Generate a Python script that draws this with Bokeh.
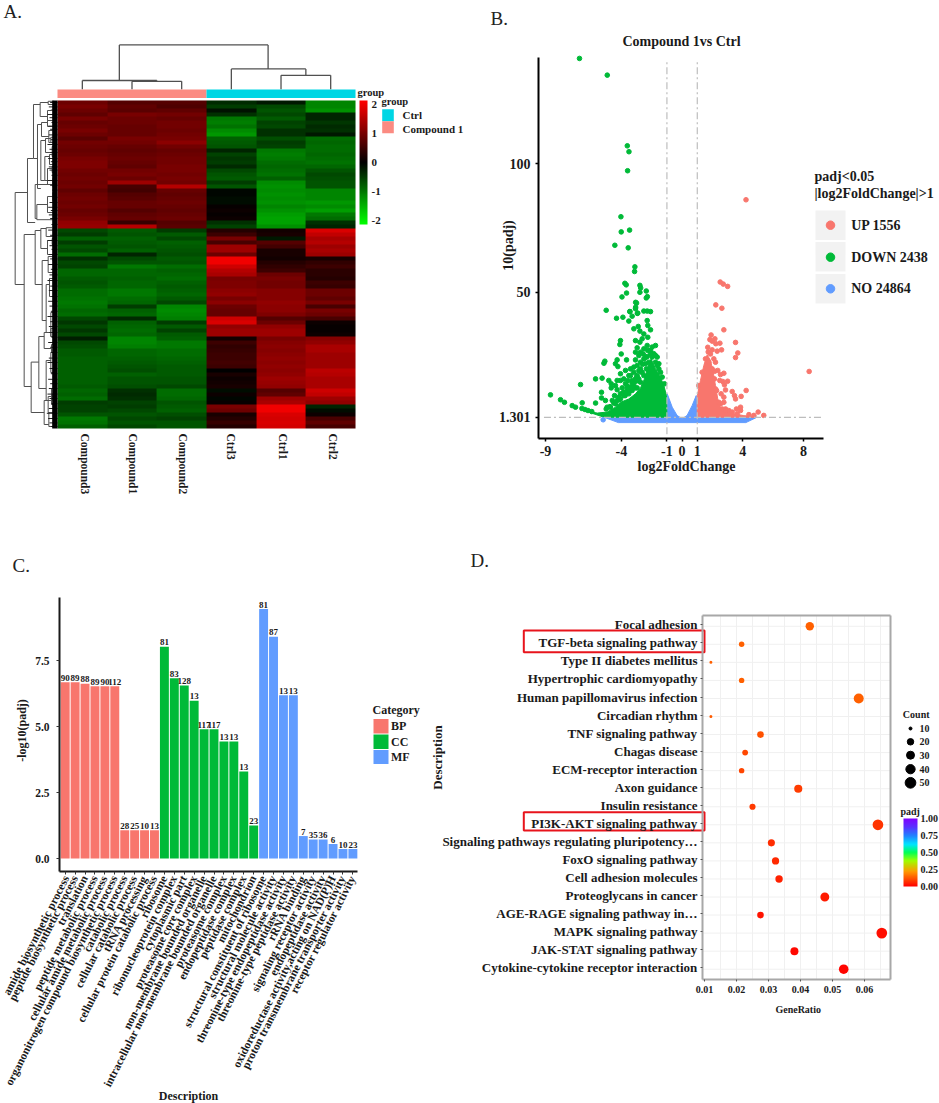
import math
import numpy as np
from bokeh.plotting import figure
from bokeh.layouts import column, row
from bokeh.embed import file_html
from bokeh.resources import INLINE
from bokeh.core.properties import value
from bokeh.models import (Range1d, LinearColorMapper, ColorBar, FixedTicker,
                          NumeralTickFormatter, PrintfTickFormatter)

SERIF = "Liberation Serif"

# ---------- Panel A data ----------
sample_names = ["Compound3", "Compound1", "Compound2", "Ctrl3", "Ctrl1", "Ctrl2"]
compound3 = [.9,1.0,.9,.8,1.0,.85,.9,1.0,.9,.75, .95,.9,.85,.9,1.0,1.05,1.05,.95,.9,.95,
             .9,.95,.8,.9,.95,.9,.95,.85,.9,1.0, 1.2,1.25,
             -.6,-.5,-.8,-.5,-.7,-.6,-.9,-.4,
             -.6,-.55,-.85,-.85,-.75,-.7,-.75,-.9,-.9,-.95, -1.,-.95,-.85,-.9,-.6,-.45,-.6,-.45,-.6,-.25,
             -.6,-.65,-.75,-.75,-.8,-.8,-.8,-.8,-.8,-.8, -.8,-.75,-.85,-.8,-.9,-.5,-.55,-.55,-.7,-1.0,-.95,-.8]
compound1 = [.7,.8,.75,1.,.9,.9,.85,.85,.85,1.0, .95,.85,.8,.85,.9,.85,.8,.95,1.0,.9,
             1.3,.6,.55,.7,.75,.85,.85,.7,.8,.85, .45,1.5,
             -.75,-.7,-.8,-.75,-.7,-.8,-.3,-.6,
             -.7,-1.0,-.85,-.85,-.8,-.85,-.85,-1.0,-1.0,-.9, -.85,-.5,-.8,-.85,-.35,-.8,-.85,-.9,-.85,-1.1,
             -1.1,-1.05,-.85,-.85,-.8,-.75,-.7,-.65,-.8,-.7, -.7,-.65,-.4,-.35,-.4,-.55,-.5,-.6,-.7,-.6,-.7,-.6]
compound2 = [.7,.65,.8,.95,.85,.95,.95,.9,.95,1.0, 1.15,.95,.85,.9,.95,.95,1.0,1.0,.95,1.0,
             .95,1.5,.85,.8,.85,.9,.85,.8,.85,.9, .7,.75,
             -.5,-.75,-.6,-.8,-.75,-.7,-.65,-.75,
             -.7,-.9,-.8,-.85,-.9,-.8,-.75,-.8,-.85,-.75, -.6,-1.1,-1.15,-1.1,-1.05,-.5,-.75,-.55,-.75,-.8,
             -1.0,-1.0,-.9,-.9,-.85,-.8,-.75,-.75,-.75,-.7, -.7,-.6,-.9,-.9,-.85,-.7,-.75,-.8,-.65,-.55,-.7,-.7]
ctrl3 = [-.35,-.5,-.15,-.4,-1.0,-1.05,-.95,-1.15,-1.25,-.8, -.75,-.7,-.3,-.55,-.45,-.5,-.35,-.6,-.7,-.75,
         -.5,-.7,-.05,-.05,-.1,-.1,.05,.1,.05,.1, -.4,-.55,
         .3,.5,1.0,.6,1.3,1.3,.9,2.0,
         2.0,1.7,1.5,1.4,1.0,1.05,1.05,1.15,1.2,1.0, 1.15,.9,.85,.85,1.7,1.8,1.2,1.3,1.3,.15,
         .5,.4,.45,.5,.5,.55,.5,0,.2,.1, .15,.2,-.1,.1,-.05,.05,1.0,.9,.2,.3,.45,.3]
ctrl1 = [-.2,-.6,-.7,-.6,-.75,-.55,-.6,-.4,-.4,-.65, -.5,-.55,-1.0,-1.05,-1.0,-.9,-.85,-.9,-.95,-.8,
         -1.15,-1.2,-1.15,-1.2,-1.15,-1.2,-1.1,-1.2,-1.3,-1.35, -1.35,-1.2,
         .15,.2,-.2,.7,.55,.2,.2,.15,
         .3,.4,.5,.9,1.0,.95,.95,1.1,1.1,1.1, 1.2,1.15,1.15,1.05,.7,.9,1.2,1.3,1.3,1.0,
         1.1,1.15,1.1,1.15,1.2,1.15,1.2,1.15,1.2,1.3, 1.25,1.2,.7,.8,1.3,1.4,2.0,2.0,1.8,1.75,1.8,1.75]
ctrl2 = [-1.1,-1.1,-1.2,-.3,-.3,-.45,-.35,-.4,-.2,-.9, -.85,-.9,-.9,-.85,-.9,-.95,-.85,-.7,-.6,-.65,
         -.7,-.7,-1.1,-1.1,-1.1,-1.25,-1.15,-1.3,-1.0,-.9, -.4,-.3,
         1.8,1.6,1.4,1.5,1.3,1.4,1.3,.2,
         .4,.5,.35,.35,.3,.5,.45,.9,.9,.8, 1.0,.6,1.0,.9,.6,.1,.05,.05,.1,1.1,
         1.2,1.4,1.4,1.3,1.3,1.3,1.3,1.55,1.5,1.4, 1.4,1.4,1.7,1.6,1.3,1.2,-.3,-.1,.1,.6,.8,.6]

# column dendrogram: parent height, left child position, right child position, child heights (in tree units)
col_tree = [(95.9, 1.245, 4.24, 87.0, 89.9),
            (87.0, .5, 2.0, 84.8, 86.8),
            (86.8, 1.5, 2.5, 84.8, 84.8),
            (89.9, 3.5, 5.0, 84.8, 88.3),
            (88.3, 4.5, 5.5, 84.8, 84.8)]
# row dendrogram brackets: parent height, top row, bottom row, top child height, bottom child height
row_tree = [(127,23,46,90,100),(90,14.5,30.5,72,67),(72,1,14.5,52,60),(52,.5,4,28,30),(28,.2,1,10,12),(30,2.5,5,18,16),
            (60,6,22,48,50),(48,5.5,9,30,26),(30,5,6.5,14,12),(26,7.5,10.5,14,10),(50,10,20,36,38),(36,9.5,13,20,16),
            (20,9.2,10.5,8,8),(16,11.5,14,8,8),(38,14,20,24,30),(24,13.5,16,10,10),(30,17,21,16,14),(16,16.5,18,6,6),
            (14,19.5,21.5,6,6),(67,21,29.5,8,62),(62,26,29.8,30,10),(30,24,28,14,12),(14,23,25,6,6),(12,27,28.5,6,6),
            (8,21,23,2,2),(100,33.5,71.5,67,79),(67,32.5,46,50,46),(50,32,37,34,30),(34,31.8,34,16,14),(30,35,38.5,16,12),
            (16,34.5,36,6,6),(46,40,55,28,34),(28,39,43,14,12),(14,38.5,40,6,6),(12,42,44,6,6),(34,46,58,24,20),
            (24,44.5,49,12,10),(12,44,46,6,6),(10,48,50,5,5),(20,53,59,10,10),(10,52,54.5,5,5),(10,57,60,5,5),
            (79,65.4,78,56,40),(56,59,72,40,34),(40,58,62,20,18),(20,57,59,8,8),(18,61,63,8,8),(34,65,75,20,18),
            (20,63,68,10,10),(10,62,64.5,4,4),(10,66,69,4,4),(18,72,76,10,8),(10,71,73,4,4),(8,75,77,4,4),
            (40,75,81,28,26),(28,74,78,14,12),(14,73.5,75,5,5),(12,77,79,5,5),(26,78,81.5,12,10),(12,77.5,79.5,5,5),(10,80,81.5,4,4)]
leaf_rows = [.5,1.6,2.4,3.5,4.3,5.5,6.4,7.2,8.6,9.8,11,12.2,13,14.5,15.3,16.6,17.4,18.7,20,21.2,22.4,24.2,25.5,26.7,27.5,28.6,29.5,31,
             32.4,33.7,35,36.3,37.2,38.5,39.6,41,42.2,43.6,45,46.4,47.5,49,50.2,51.4,52.7,54,55.3,56.5,58,59.2,60.5,61.7,63,64.4,65.5,
             67,68.3,69.7,70.8,72,73.4,74.5,75.8,77,78.2,79.5,80.6,81.5]
leaf_len = [22,26,20,30,24,18,28,22,26,20,30,24,22,28,20,26,24,18,30,22,16,14,24,28,20,26,22,18,
            28,22,30,24,18,26,22,28,20,24,30,22,26,18,28,24,20,30,22,26,24,18,28,22,20,26,30,
            24,20,28,22,26,30,24,18,26,32,28,24,20]

# ---------- Panel B data ----------
volcano_title = "Compound 1vs Ctrl"
x_ticks_b = [-9, -4, -1, 0, 1, 4, 8]
y_ticks_b = [1.301, 50, 100]
down_x = [-6.76,-4.93,-3.61,-3.5,-3.59,-4.03,-3.46,-4.01,-4.43,-3.55,-3.11,-3.13,-3.77,-3.68,-2.78,-2.73,-2.36,-3.66,-3.96,-2.29,
          -2.36,-2.78,-3.06,-3.0,-3.06,-5.0,-3.44,-2.95,
          -4.32,-3.9,-3.44,-3.29,-3.51,-3.07,-2.92,-2.52,-2.3,-2.08,-2.3,-2.26,-2.08,-3.18,-2.89,-2.78,-2.52,-2.26,-2.63,-3.07,-2.78,
          -4.06,-4.1,-1.75,-1.97,-2.3,-2.52,-2.96,-3.07,-4.01,-3.66,-4.28,-4.39,-4.23,-5.09,-5.15,
          -2.85,-3.07,-2.74,-2.96,-1.64,-1.53,-3.73,-4.06,-3.4,-3.18,-3.51,-3.07,-4.06,-3.29,-3.73,-4.83,-4.67,-5.7,-5.27,-6.69,
          -4.67,-5.31,-4.28,-3.95,-4.45,-5.31,-5.05,-5.7,-6.58,-8.67,-8.01,-7.75,-7.24,-7.02,-4.6,-4.06,-3.57,-3.07,-4.94,-2.3,-2.56,-2.08,-1.86,
          -6.6,-6.4,-6.2,-5.95,-2.6,-2.42,-2.85,-3.3,-2.98,-3.62,-3.85,-3.22,-2.7,-3.0,-3.4,-3.75,-4.15,-4.5,-4.75,-5.0,
          -4.39,-4.06,-3.84,-3.51,-3.29,-2.96,-2.74,-2.52,-2.35,-2.19,-1.97,-1.75,-1.53,-1.31,-1.16,-4.72,-4.28,-3.73,-3.4,-3.18,
          -2.85,-2.63,-2.41,-2.08,-1.75,-1.64,-1.42,-4.17,-3.62,-2.96,-2.74,-3.57,-3.84,-3.4,-4.28,-4.39,-3.18,-2.52,-2.74,-2.26]
down_y = [141,134.5,107,104.7,97.3,79.4,74.2,73.5,68.3,67.3,59.9,58.1,53.5,52.9,52.7,51.7,50.5,49.7,48.2,48.3,
          47.8,50,46.1,45.8,44.2,43,42.5,41.8,
          39.9,40.3,42.5,40.7,38.8,43.6,41.9,42.7,42.7,42.5,39,37.1,35.4,35.8,36.7,34.9,33.8,32.5,31.9,31.2,30.6,
          31.2,29.7,29.3,28.7,29.3,28,28.4,26.7,26,23.7,23.7,22.2,21.1,23.2,22.4,
          25.4,23.7,22.8,21.5,24.8,22.2,19.6,18.3,20.2,18.9,17.6,16.3,15.7,15.7,14.4,15.7,14.4,16.3,16.6,14.1,
          12.8,11.1,12.1,12.8,9.8,8.9,7.9,6.9,7,10.1,8.2,7.2,5.9,5.3,7.9,10.5,11.8,12.8,5.3,25,26,27.4,26.1,
          4.8,4.4,4,3.6,22,24.5,19.5,14.8,17.2,13.6,11.2,13.2,19,15.5,12,9.8,8.2,7,5.5,4.6,
          6.6,8.5,9.8,10.5,11.8,12.8,15,17.6,20.2,22.8,24.8,22.8,20.2,17,14.4,5.3,7.9,11.1,13.1,14.4,
          16.3,18.9,22.2,26,25.4,21.5,18.9,9.2,12.8,17.6,20.2,15.7,16.3,17.6,15.7,13.7,20.9,24.1,26.7,27.4]
up_x = [4.21,8.37,2.51,2.71,3,2.22,2.62,2.75,1.91,1.83,1.98,2.16,2.22,2.49,3.52,3.67,3.52,1.69,1.98,2.6,2.31,1.72,
        2.2,2.16,2.75,2.53,3.0,2.68,2.79,2.2,2.86,2.57,3.3,4.22,3.89,3.45,3.52,2.75,2.75,2.53,3.85,3.58,2.86,5.01,5.38,4.73,3.85,3.08,
        1.54,1.32,1.1,1.76,1.98,2.13,2.27,2.42,2.64,2.86,3.3,3.63,4.4,1.87,2.09,2.35,2.48]
up_y = [86,19.2,54,53.2,52.3,45.1,43.8,35.4,33.4,31.6,31,31.9,30,30.2,30.5,26.4,24.6,28.6,27.6,27.6,27.1,26.8,
        22.8,19.3,18.5,18,15.4,15.3,14,12.4,12,10.5,11.4,11.8,9.5,9.8,8.5,9.2,7.2,6.6,5.3,4.6,4.6,3.4,2.1,2.1,4,4,
        24.1,18.9,13.7,22.8,20.2,16.3,11.8,7.2,4.6,4,3.4,2.7,2.4,26,24.1,19.6,15.7]
no_x = [-5.2]
no_y = [0.4]
# outlines of the regions where the points merge into a solid cloud
down_cloud_x = [-6.47,-5.59,-4.94,-4.39,-4.06,-3.51,-3.07,-2.74,-2.48,-2.26,-2.04,-1.75,-1.47,-1.2,-1.03,-1,-5.16]
down_cloud_y = [4.0,3.0,3.4,5.3,7.2,8.5,10.5,12.8,16.3,20.9,24.1,20.2,17.6,13.7,9.8,1.4,1.4]
up_cloud_x = [1,1,1.21,1.43,1.65,1.87,2.05,2.2,2.35,2.53,3.19,4.07,4.83,4.83]
up_cloud_y = [1.4,9.8,15.7,21.5,25.7,23.5,18.9,13.7,8.5,5,3,2,1.7,1.4]
no_cloud_x = [-5.15,-4.2,4.2,4.94,1,.93,.66,.33,0,-.33,-.65,-.98,-1]
no_cloud_y = [1.4,-.7,-.7,1.4,1.4,9.8,5.9,2.1,.77,2.1,5.3,10.5,1.4]
legend_b = ["UP 1556", "DOWN 2438", "NO 24864"]

# ---------- Panel C data ----------
go_terms = ["amide biosynthetic process","peptide biosynthetic process","translation","peptide metabolic process",
            "cellular amide metabolic process","organonitrogen compound biosynthetic process","catabolic process",
            "cellular catabolic process","tRNA processing","cellular protein catabolic process",
            "ribosome","ribonucleoprotein complex","cytoplasmic part","proteasome core complex",
            "non-membrane bounded organelle","intracellular non-membrane bounded organelle","proteasome complex",
            "endopeptidase complex","peptidase complex","mitochondrion",
            "structural constituent of ribosome","structural molecule activity","threonine-type endopeptidase activity",
            "threonine-type peptidase activity","rRNA binding","signaling receptor activity","endopeptidase activity",
            "oxidoreductase activity,acting on NAD(P)H","proton transmembrane transporter activity","receptor regulator activity"]
go_pvalue = [6.68,6.68,6.62,6.52,6.52,6.52,1.07,1.07,1.07,1.07,
             8.02,6.83,6.55,5.98,4.9,4.9,4.43,4.43,3.3,1.25,
             9.45,8.4,6.18,6.18,.85,.72,.72,.55,.36,.36]
go_count = [90,89,88,89,90,112,28,25,10,13, 81,83,128,13,117,117,13,13,13,23, 81,87,13,13,7,35,36,6,10,23]
go_group = ["BP"]*10 + ["CC"]*10 + ["MF"]*10
group_colors = {"BP": "#f8766d", "CC": "#00ba38", "MF": "#619cff"}

# ---------- Panel D data ----------
kegg_terms = ["Focal adhesion","TGF-beta signaling pathway","Type II diabetes mellitus","Hypertrophic cardiomyopathy",
              "Human papillomavirus infection","Circadian rhythm","TNF signaling pathway","Chagas disease",
              "ECM-receptor interaction","Axon guidance","Insulin resistance","PI3K-AKT signaling pathway",
              "Signaling pathways regulating pluripotency…","FoxO signaling pathway","Cell adhesion molecules",
              "Proteoglycans in cancer","AGE-RAGE signaling pathway in…","MAPK signaling pathway",
              "JAK-STAT signaling pathway","Cytokine-cytokine receptor interaction"]
gene_ratio = [.0429,.0216,.012,.0216,.0582,.012,.0275,.0227,.0216,.0393,.025,.0642,.0309,.0322,.0333,.0476,.0275,.0654,.0381,.0535]
kegg_count = [33,17,9,17,45,9,21,18,17,31,19,50,24,25,26,37,21,51,30,42]
kegg_padj = [.14,.14,.14,.14,.14,.13,.12,.105,.1,.09,.085,.075,.065,.06,.05,.04,.03,.02,.012,.008]
count_levels = [10,20,30,40,50]
count_sizes = [3,6.5,8,9.3,10.7]


def bold(font_px):
    return dict(text_font=value(SERIF), text_font_style="bold", text_font_size=f"{font_px}px", text_color="#1a1a1a")


def panel_letter(fig, x, y, txt):
    fig.text(x=[x], y=[y], text=[txt], text_font=value(SERIF), text_font_size="19px", text_color="#222222",
             text_baseline="middle", text_align="left")


def free_label(fig, x, y, txt, size, angle=0.0):
    fig.text(x=[x], y=[y], text=[txt], angle=angle, text_align="center", text_baseline="middle", **bold(size))


def base(w, h, xr, yr):
    f = figure(width=w, height=h, x_range=Range1d(*xr), y_range=Range1d(*yr), output_backend="svg",
               toolbar_location=None, min_border=0, frame_align=False)
    f.outline_line_color = None
    f.grid.visible = False
    return f


# ================= A =================
W_A, H_TOP = 470, 520
col_px, row_px, x0_a, y0_a = 49.67, 4.0, 57.0, 100.0
ax = lambda px: (px - x0_a) / col_px
ay = lambda px: 82 - (px - y0_a) / row_px
a = base(W_A, H_TOP, (ax(0), ax(W_A)), (ay(H_TOP), ay(0)))
a.axis.visible = False
green_red = ["#%02x%02x%02x" % (max(0, int(round(255 * (i - 128) / 127))), max(0, int(round(255 * (127 - i) / 127))), 0) for i in range(256)]
heat_mapper = LinearColorMapper(palette=green_red, low=-2.13, high=2.13)
matrix = np.array([compound3, compound1, compound2, ctrl3, ctrl1, ctrl2], dtype=float).T
a.image(image=[matrix[::-1]], x=0, y=0, dw=6, dh=matrix.shape[0], color_mapper=heat_mapper)
# annotation bar
a.quad(left=[0, 3], right=[3, 6], bottom=[ay(97.5)] * 2, top=[ay(89)] * 2, fill_color=["#fb8b82", "#00d6e4"], line_color=None)
# column dendrogram
cx0, cx1, cy0, cy1 = [], [], [], []
for h, l, rr, hl, hr in col_tree:
    cx0 += [l, rr, l]; cx1 += [rr, rr, l]; cy0 += [h, h, h]; cy1 += [h, hr, hl]
a.segment(cx0, cy0, cx1, cy1, line_color="#505050", line_width=1.3)
# row dendrogram
tree_scale = 149.0
sx0, sx1, sy0, sy1 = [], [], [], []
for h, r0, r1, h0, h1 in row_tree:
    sx0 += [-h, -h, -h]; sx1 += [-h, -h0, -h1]; sy0 += [r0, r0, r1]; sy1 += [r1, r0, r1]
a.segment(np.array(sx0) / tree_scale, 82 - np.array(sy0), np.array(sx1) / tree_scale, 82 - np.array(sy1), line_color="#505050", line_width=1)
a.segment(-np.array(leaf_len) / tree_scale, 82 - np.array(leaf_rows), [0] * len(leaf_rows), 82 - np.array(leaf_rows), line_color="#222222", line_width=1)
a.quad(left=[-16 / tree_scale], right=[0], bottom=[0], top=[82], fill_color="black", line_color=None)
# sample labels
a.text(x=[.56, 1.53, 2.52, 3.5, 4.54, 5.54], y=[ay(433)] * 6, text=sample_names, angle=-math.pi / 2,
       text_align="left", text_baseline="middle", **bold(11.5))
a.text(x=[ax(357)], y=[ay(92)], text=["group"], text_align="left", text_baseline="middle", **bold(10.5))
a.text(x=[ax(381)], y=[ay(101)], text=["group"], text_align="left", text_baseline="middle", **bold(10.5))
a.quad(left=[ax(381.7)] * 2, right=[ax(393.3)] * 2, top=[ay(108.7), ay(120.7)], bottom=[ay(120.7), ay(132.7)],
       fill_color=["#00d6e4", "#fb8b82"], line_color=None)
a.text(x=[ax(402)] * 2, y=[ay(114.5), ay(128.7)], text=["Ctrl", "Compound 1"], text_align="left", text_baseline="middle", **bold(11))
cb_a = ColorBar(color_mapper=heat_mapper, location=(359, H_TOP - 224), width=8, height=124, padding=0, margin=0,
                ticker=FixedTicker(ticks=[-2, -1, 0, 1, 2]), major_tick_line_color=None, bar_line_color=None,
                major_label_overrides={-2: "-2", -1: "-1", 0: "0", 1: "1", 2: "2"},
                major_label_text_font=SERIF, major_label_text_font_style="bold", major_label_text_font_size="11px",
                major_label_text_color="#1a1a1a", label_standoff=4, background_fill_alpha=0)
a.add_layout(cb_a)
panel_letter(a, ax(3), ay(11), "A.")

# ================= B =================
W_B = 939 - W_A
bx = lambda px: (px - 681.6) / 15.18
by = lambda py: 100 - (py - 163.3) / 2.57
b = base(W_B, H_TOP, (bx(W_A), bx(939)), (by(H_TOP), by(0)))
b.xaxis.ticker = FixedTicker(ticks=x_ticks_b)
b.yaxis.ticker = FixedTicker(ticks=y_ticks_b)
b.xaxis.major_label_overrides = {t: str(t) for t in x_ticks_b}
b.xaxis[0].fixed_location = by(438)
b.yaxis[0].fixed_location = bx(538)
b.xaxis.bounds = (bx(538), bx(823))
b.yaxis.bounds = (by(438), by(57))
for axs in (b.xaxis[0], b.yaxis[0]):
    axs.axis_line_color = "black"; axs.axis_line_width = 2
    axs.major_tick_line_color = "black"; axs.major_tick_line_width = 1.5; axs.major_tick_out = 3; axs.major_tick_in = 0
    axs.minor_tick_line_color = None
    axs.major_label_text_font = SERIF; axs.major_label_text_font_style = "bold"; axs.major_label_text_font_size = "14px"
    axs.major_label_text_color = "#1a1a1a"
b.xaxis[0].major_label_standoff = 4
b.yaxis[0].major_label_standoff = 5
b.patch(no_cloud_x, no_cloud_y, fill_color="#619cff", line_color="#619cff")
b.patch(down_cloud_x, down_cloud_y, fill_color="#00ba38", line_color="#00ba38")
b.patch(up_cloud_x, up_cloud_y, fill_color="#f8766d", line_color="#f8766d")
b.scatter(down_x, down_y, size=4.6, color="#00ba38")
b.scatter(up_x, up_y, size=4.6, color="#f8766d")
b.scatter(no_x, no_y, size=4.6, color="#619cff")
b.segment([-9.1], [1.301], [9.16], [1.301], line_color="#bdbdbd", line_width=1.2, line_dash="7 3 2 3")
b.segment([-1, 1], [-5.2, -5.2], [-1, 1], [140, 140], line_color="#bdbdbd", line_width=1.2, line_dash="7 3 2 3")
b.text(x=[bx(681)], y=[by(41)], text=[volcano_title], text_align="center", text_baseline="middle", **bold(14))
b.text(x=[bx(814)] * 2, y=[by(175.5), by(192.5)], text=["padj<0.05", "|log2FoldChange|>1"], text_align="left", text_baseline="middle", **bold(14))
b.quad(left=[bx(815)] * 3, right=[bx(845)] * 3, top=[by(210), by(241.5), by(273.5)], bottom=[by(239.5), by(271), by(303)],
       fill_color="#f2f2f2", line_color=None)
b.scatter(x=[bx(830)] * 3, y=[by(224.7), by(256.7), by(288.3)], size=8.5, color=["#f8766d", "#00ba38", "#619cff"])
b.text(x=[bx(850.7)] * 3, y=[by(224.7), by(256.7), by(288.3)], text=legend_b, text_align="left", text_baseline="middle", **bold(14))
free_label(b, bx(686), by(465.7), "log2FoldChange", 14)
free_label(b, bx(508), by(245), "10(padj)", 14, math.pi / 2)
panel_letter(b, bx(490), by(18), "B.")

# ================= C =================
W_C, H_BOT = 425, 583
top_c = H_TOP
cx = lambda px: 1 + (px - 64.7) / 9.92
cy = lambda py: (858 - py) / 26.4
c = base(W_C, H_BOT, (cx(0), cx(W_C)), (cy(1103), cy(top_c)))
positions = list(range(1, len(go_terms) + 1))
c.vbar(x=positions, top=go_pvalue, width=.9, fill_color=[group_colors[g] for g in go_group], line_color=None)
c.text(x=positions, y=[v + .05 for v in go_pvalue], text=[str(n) for n in go_count], text_align="center", text_baseline="bottom", **bold(9))
c.xaxis.ticker = FixedTicker(ticks=positions)
c.xaxis.major_label_overrides = dict(zip(positions, go_terms))
c.xaxis.major_label_orientation = math.radians(63)
c.yaxis.ticker = FixedTicker(ticks=[0, 2.5, 5, 7.5])
c.yaxis.formatter = NumeralTickFormatter(format="0.0")
c.xaxis[0].fixed_location = cy(871)
c.yaxis[0].fixed_location = cx(59)
c.xaxis.bounds = (cx(59), cx(357))
c.yaxis.bounds = (cy(871), cy(597))
for axs, fs in ((c.xaxis[0], "11.6px"), (c.yaxis[0], "11.5px")):
    axs.axis_line_color = "#1a1a1a"; axs.axis_line_width = 2
    axs.major_tick_line_color = "#333333"; axs.major_tick_out = 3; axs.major_tick_in = 0
    axs.minor_tick_line_color = None
    axs.major_label_text_font = SERIF; axs.major_label_text_font_style = "bold"; axs.major_label_text_font_size = fs
    axs.major_label_text_color = "#1a1a1a"
c.xaxis[0].major_label_standoff = 2
c.yaxis[0].major_label_standoff = 7
free_label(c, cx(188), cy(1095), "Description", 12)
free_label(c, cx(21), cy(730), "-log10(padj)", 12, math.pi / 2)
c.text(x=[cx(372)], y=[cy(709)], text=["Category"], text_align="left", text_baseline="middle", **bold(12))
c.quad(left=[cx(373)] * 3, right=[cx(388)] * 3, top=[cy(718.5), cy(734), cy(749.5)], bottom=[cy(733), cy(748.5), cy(763.5)],
       fill_color=[group_colors[g] for g in ["BP", "CC", "MF"]], line_color=None)
c.text(x=[cx(390.5)] * 3, y=[cy(725.5), cy(741), cy(756.5)], text=["BP", "CC", "MF"], text_align="left", text_baseline="middle", **bold(12))
panel_letter(c, cx(12), cy(565), "C.")

# ================= D =================
W_D = 939 - W_C
off = H_TOP  # page y of this row's top
dx = lambda px: .01 + (px - 704) / 3200
dy = lambda py: 1 + (968.7 - py) / 18.05
d = base(W_D, H_BOT, (dx(W_C), dx(939)), (dy(1103), dy(off)))
rows_d = list(range(len(kegg_terms), 0, -1))
grid_x = [.015, .02, .025, .03, .035, .04, .045, .05, .055, .06, .065]
d.segment(grid_x, [dy(979)] * len(grid_x), grid_x, [dy(615)] * len(grid_x), line_color="#f0f0f0", line_width=1)
d.segment([dx(702)] * len(rows_d), rows_d, [dx(890)] * len(rows_d), rows_d, line_color="#f0f0f0", line_width=1)
d.xaxis.ticker = FixedTicker(ticks=[.01, .02, .03, .04, .05, .06])
d.xaxis.formatter = NumeralTickFormatter(format="0.00")
label_rows = [round(r + .08, 2) for r in rows_d]  # the reference's labels sit a little above their rows
d.yaxis.ticker = FixedTicker(ticks=label_rows)
d.yaxis.major_label_overrides = dict(zip(label_rows, kegg_terms))
d.xaxis[0].fixed_location = dy(979)
d.yaxis[0].fixed_location = dx(702)
d.xaxis.bounds = (dx(702), dx(890))
d.yaxis.bounds = (dy(979), dy(615))
for axs, fs in ((d.xaxis[0], "10px"), (d.yaxis[0], "13px")):
    axs.axis_line_color = "#a8a8a8"; axs.axis_line_width = 2
    axs.major_tick_line_color = "#555555"; axs.major_tick_out = 2; axs.major_tick_in = 0
    axs.minor_tick_line_color = None
    axs.major_label_text_font = SERIF; axs.major_label_text_font_style = "bold"; axs.major_label_text_font_size = fs
    axs.major_label_text_color = "#1a1a1a"
d.xaxis[0].major_label_standoff = 4
d.yaxis[0].major_label_standoff = 3
d.segment([dx(702), dx(890)], [dy(615), dy(615)], [dx(890), dx(890)], [dy(615), dy(979)], line_color="#a8a8a8", line_width=2)
rainbow_stops = [(0, "#ff0000"), (.22, "#ff9a00"), (.38, "#9dff00"), (.5, "#00ff55"), (.62, "#00e5ff"), (.75, "#2080ff"), (.88, "#5a30ff"), (1, "#8000ff")]
t_ = [s[0] for s in rainbow_stops]
rgb_ = [[int(s[1][i:i + 2], 16) for i in (1, 3, 5)] for s in rainbow_stops]
rainbow = ["#%02x%02x%02x" % tuple(int(round(np.interp(v, t_, [r[k] for r in rgb_]))) for k in range(3)) for v in np.linspace(0, 1, 256)]
padj_mapper = LinearColorMapper(palette=rainbow, low=0, high=1)
d.scatter(x=gene_ratio, y=rows_d, size=list(np.interp(kegg_count, count_levels, count_sizes)),
          fill_color=[rainbow[int(v * 255)] for v in kegg_padj], line_color=None)
d.text(x=[dx(915.7)], y=[dy(714)], text=["Count"], text_align="center", text_baseline="middle", **bold(10))
leg_y = [dy(728), dy(741.3), dy(754.7), dy(768.7), dy(782.3)]
d.scatter(x=[dx(910)] * 5, y=leg_y, size=count_sizes, color="black")
d.text(x=[dx(919)] * 5, y=leg_y, text=[str(v) for v in count_levels], text_align="left", text_baseline="middle", **bold(10))
d.text(x=[dx(900)], y=[dy(810.5)], text=["padj"], text_align="left", text_baseline="middle", **bold(10))
cb_d = ColorBar(color_mapper=padj_mapper, location=(903 - W_C, 1103 - 886), width=14, height=68, padding=0, margin=0,
                ticker=FixedTicker(ticks=[0, .25, .5, .75, 1]), formatter=PrintfTickFormatter(format="%.2f"),
                major_tick_line_color=None, bar_line_color=None,
                major_label_text_font=SERIF, major_label_text_font_style="bold", major_label_text_font_size="10px",
                major_label_text_color="#1a1a1a", label_standoff=3, background_fill_alpha=0)
d.add_layout(cb_d)
for top_px, bot_px in ((630, 651.7), (811.7, 830)):
    d.quad(left=[dx(523.3)], right=[dx(704)], top=[dy(top_px)], bottom=[dy(bot_px)], fill_alpha=0,
           line_color="#e8141c", line_width=2)
free_label(d, dx(797.7), dy(1009), "GeneRatio", 10)
free_label(d, dx(437), dy(757), "Description", 13, math.pi / 2)
panel_letter(d, dx(470), dy(560), "D.")

page = column(row(a, b), row(c, d))
open("out.html", "w").write(file_html(page, INLINE))
